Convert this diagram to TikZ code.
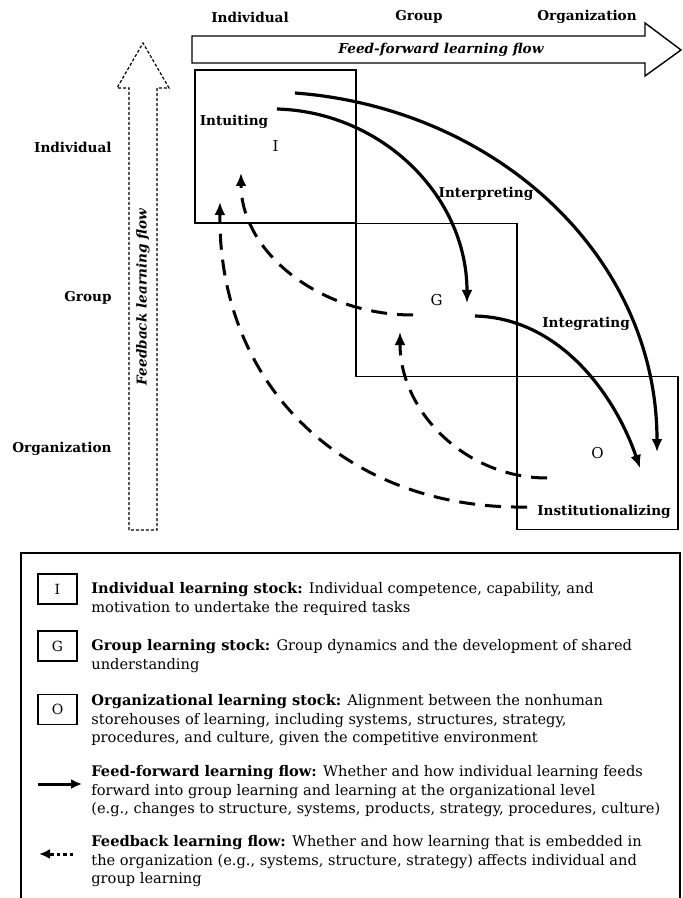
\documentclass[tikz,border=0pt]{standalone}
\usepackage{fontspec}
\setmainfont{DejaVu Serif}
\usetikzlibrary{arrows.meta}

\begin{document}
\begin{tikzpicture}[
	x=0.5pt, y=-0.5pt,
	lvl/.style={inner sep=0pt, font=\fontsize{6.8}{8}\selectfont\bfseries},
	stock/.style={draw, line width=0.6pt, minimum width=80.5pt, minimum height=76.5pt, inner sep=0pt, font=\fontsize{7.5}{8}\selectfont},
	flowtext/.style={inner sep=0pt, font=\fontsize{6.8}{8}\selectfont\bfseries\itshape},
	ff/.style={line width=1.6pt, -{Latex[length=6.5pt,width=5.5pt]}},
	fb/.style={line width=1.5pt, dash pattern=on 8pt off 5pt, -{Latex[length=6.5pt,width=5.5pt]}},
	key/.style={draw, line width=0.6pt, minimum width=19.5pt, minimum height=15pt, inner sep=0pt, font=\fontsize{7}{8}\selectfont},
	note/.style={anchor=north west, inner sep=0pt, align=left, font=\fontsize{7.3}{9.35}\selectfont}
]
\clip (0,0) rectangle (682,898);

% level headings
\node[lvl] (topInd) at (250,17) {Individual};
\node[lvl] (topGrp) at (419,17) {Group};
\node[lvl] (topOrg) at (587,17) {Organization};
\node[lvl, anchor=east] (leftInd) at (112,147) {Individual};
\node[lvl, anchor=east] (leftGrp) at (112,298) {Group};
\node[lvl, anchor=east] (leftOrg) at (112,449) {Organization};

% the two broad flows
\draw[line width=0.7pt] (192,36) -- (645,36) -- (645,23) -- (681,50) -- (645,76) -- (645,63) -- (192,63) -- cycle;
\node[flowtext] (ffText) at (441,50) {Feed-forward learning flow};
\draw[line width=0.6pt, dash pattern=on 1.5pt off 1pt] (129,530) -- (129,88) -- (117,88) -- (143,43) -- (169,88) -- (157,88) -- (157,530) -- cycle;
\node[flowtext, rotate=90] (fbText) at (143,297) {Feedback learning flow};

% learning stocks
\node[stock] (I) at (275.5,146.5) {I};
\node[stock] (G) at (436.5,300) {G};
\node[stock] (O) at (597.5,453) {O};

% processes
\node[lvl] (intuiting) at (234,122) {Intuiting};
\node[lvl] (interpreting) at (486,194) {Interpreting};
\node[lvl] (integrating) at (586,324) {Integrating};
\node[lvl] (institutionalizing) at (604,512) {Institutionalizing};

% arrow ends
\coordinate (I-a) at (295,93);
\coordinate (I-b) at (277,109);
\coordinate (G-in) at (467,303);
\coordinate (G-out) at (475,316);
\coordinate (O-in1) at (657,452);
\coordinate (O-in2) at (640,468);
\coordinate (G-back) at (413,315);
\coordinate (O-back1) at (527,507);
\coordinate (O-back2) at (547,478);
\coordinate (I-back1) at (241,173);
\coordinate (I-back2) at (220,202);
\coordinate (G-back-in) at (400,332);

\draw[ff] (I-a) .. controls (495,108) and (657,255) .. (O-in1);
\draw[ff] (I-b) .. controls (382,112) and (467,196) .. (G-in);
\draw[ff] (G-out) .. controls (560,318) and (615,395) .. (O-in2);
\draw[fb] (G-back) .. controls (318,315) and (241,251) .. (I-back1);
\draw[fb] (O-back1) .. controls (350,510) and (218,390) .. (I-back2);
\draw[fb] (O-back2) .. controls (466,478) and (400,412) .. (G-back-in);

% legend
\draw[line width=0.7pt] (21,553) rectangle (680,910);
\node[key] (keyI) at (57.5,589) {I};
\node[key] (keyG) at (57.5,646) {G};
\node[key] (keyO) at (57.5,709.5) {O};
\coordinate (keyFFa) at (38,784);
\coordinate (keyFFb) at (82,784);
\coordinate (keyFBa) at (73,854);
\coordinate (keyFBb) at (39,854);
\draw[line width=1.5pt, -{Latex[length=5.5pt,width=5pt]}] (keyFFa) -- (keyFFb);
\draw[line width=1.5pt, dash pattern=on 1.75pt off 1.5pt, -{Latex[length=5.5pt,width=5pt]}] (keyFBa) -- (keyFBb);

\node[note] (noteI) at (91,582) {\textbf{Individual learning stock:} Individual competence, capability, and\\motivation to undertake the required tasks};
\node[note] (noteG) at (91,639) {\textbf{Group learning stock:} Group dynamics and the development of shared\\understanding};
\node[note] (noteO) at (91,694) {\textbf{Organizational learning stock:} Alignment between the nonhuman\\storehouses of learning, including systems, structures, strategy,\\procedures, and culture, given the competitive environment};
\node[note] (noteFF) at (91,765) {\textbf{Feed-forward learning flow:} Whether and how individual learning feeds\\forward into group learning and learning at the organizational level\\(e.g., changes to structure, systems, products, strategy, procedures, culture)};
\node[note] (noteFB) at (91,835) {\textbf{Feedback learning flow:} Whether and how learning that is embedded in\\the organization (e.g., systems, structure, strategy) affects individual and\\group learning};
\end{tikzpicture}
\end{document}
